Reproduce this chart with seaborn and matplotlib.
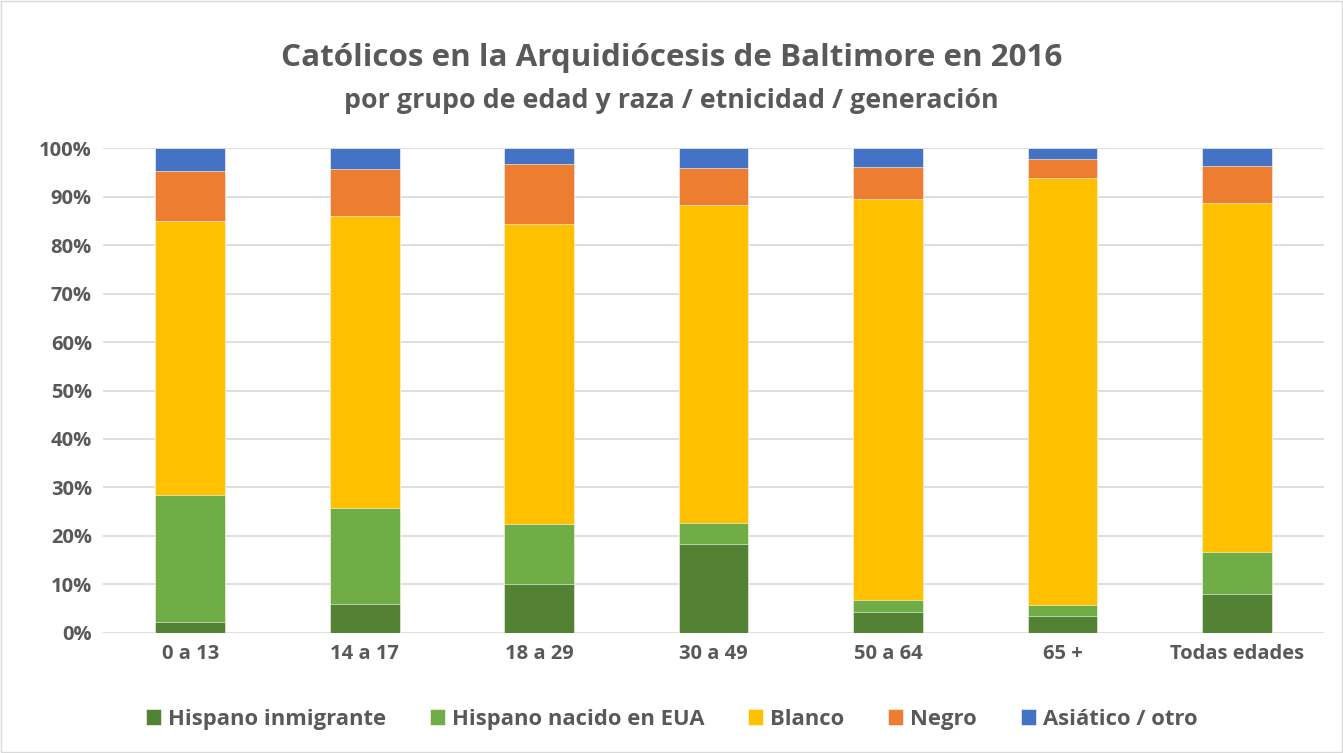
import numpy as np
import pandas as pd
import matplotlib
matplotlib.use("Agg")
import matplotlib.pyplot as plt
import seaborn as sns
from matplotlib.patches import Rectangle
from matplotlib.ticker import PercentFormatter

# data (share of each group, %)
grupos = ["0 a 13", "14 a 17", "18 a 29", "30 a 49", "50 a 64", "65 +", "Todas edades"]
series = ["Hispano inmigrante", "Hispano nacido en EUA", "Blanco", "Negro", "Asiático / otro"]
hisp_inm  = [2.3, 6.0, 10.0, 18.4, 4.3, 3.6, 8.1]
hisp_nac  = [26.2, 19.8, 12.5, 4.3, 2.6, 2.2, 8.7]
blanco    = [56.5, 60.2, 61.8, 65.6, 82.6, 88.1, 71.8]
negro     = [10.2, 9.7, 12.5, 7.5, 6.5, 3.8, 7.7]
asiatico  = [4.8, 4.3, 3.2, 4.2, 4.0, 2.3, 3.7]
colores = ["#548235", "#70ad47", "#ffc000", "#ed7d31", "#4472c4"]

df = pd.DataFrame({"grupo": grupos, series[0]: hisp_inm, series[1]: hisp_nac,
                   series[2]: blanco, series[3]: negro, series[4]: asiatico})
cum = df[series].cumsum(axis=1) / 100.0

sns.set_style("white")
plt.rcParams["font.family"] = ["Open Sans", "DejaVu Sans"]
plt.rcParams["font.weight"] = "bold"
gris = "#595959"

fig = plt.figure(figsize=(13.43, 7.53), dpi=100)
ax = fig.add_axes([0.0767, 0.1594, 0.9092, 0.644])

# stacked bars: draw cumulative totals from top series down
for s, c in reversed(list(zip(series, colores))):
    sns.barplot(x=df["grupo"], y=cum[s], color=c, width=0.4, ax=ax,
                saturation=1, edgecolor="white", linewidth=0.4, label=s)

h, l = ax.get_legend_handles_labels()
if ax.get_legend() is not None:
    ax.get_legend().remove()

ax.set_ylim(0, 1)
ax.set_xlim(-0.5, len(grupos) - 0.5)
ax.yaxis.set_major_locator(plt.MultipleLocator(0.1))
ax.yaxis.set_major_formatter(PercentFormatter(1.0, decimals=0))
ax.grid(axis="y", color="#d9d9d9", linewidth=1.2)
ax.set_axisbelow(True)
for sp in ax.spines.values():
    sp.set_visible(False)
ax.set_xlabel("")
ax.set_ylabel("")
ax.tick_params(axis="both", length=0, labelsize=14.5, labelcolor=gris, pad=8)

order = [l.index(s) for s in series]
fig.legend([h[i] for i in order], series, loc="center", bbox_to_anchor=(0.5, 0.045),
           ncol=5, frameon=False, handlelength=0.7, handleheight=0.7,
           handletextpad=0.3, columnspacing=2.0,
           prop={"size": 15.8, "weight": "bold"}, labelcolor=gris)

fig.text(0.5, 0.923, "Católicos en la Arquidiócesis de Baltimore en 2016",
         ha="center", va="center", fontsize=22.6, fontweight="bold", color=gris)
fig.text(0.5, 0.866, "por grupo de edad y raza / etnicidad / generación",
         ha="center", va="center", fontsize=19.3, fontweight="bold", color=gris)

fig.add_artist(Rectangle((0.001, 0.001), 0.998, 0.998, transform=fig.transFigure,
                         fill=False, edgecolor="#d9d9d9", linewidth=1))

fig.savefig("out.png", dpi=100)
plt.close(fig)
